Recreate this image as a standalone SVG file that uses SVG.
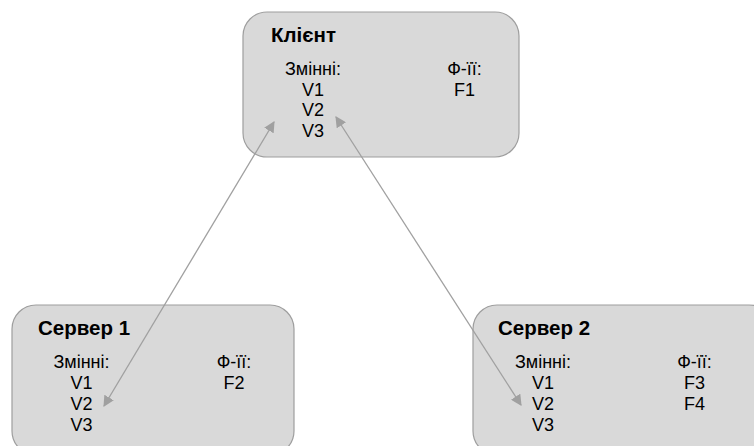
<svg xmlns="http://www.w3.org/2000/svg" width="754" height="446" viewBox="0 0 754 446">
<defs>
<style>
.box{fill:#d9d9d9;stroke:#9e9e9e;stroke-width:1.2}
.title{font-family:"Liberation Sans",Arial,sans-serif;font-weight:bold;font-size:20.5px;fill:#000}
.t{font-family:"Liberation Sans",Arial,sans-serif;font-size:18px;fill:#000;text-anchor:middle}
.conn{stroke:#a0a0a0;stroke-width:1.3;fill:none;marker-start:url(#ah);marker-end:url(#ah)}
</style>
<marker id="ah" viewBox="0 0 10 10" refX="9" refY="5" markerWidth="11" markerHeight="11" markerUnits="userSpaceOnUse" orient="auto-start-reverse">
<path d="M0,0 L10,5 L0,10 z" fill="#a0a0a0"/>
</marker>
</defs>
<rect width="754" height="446" fill="#ffffff"/>
<g id="client">
<rect class="box" x="243" y="12" width="276" height="145" rx="24"/>
<text class="title" x="271" y="42">Клієнт</text>
<text class="t" x="313" y="75">Змінні:</text>
<text class="t" x="313" y="95.5">V1</text>
<text class="t" x="313" y="116">V2</text>
<text class="t" x="313" y="137">V3</text>
<text class="t" x="464.5" y="75">Ф-її:</text>
<text class="t" x="464.5" y="95.5">F1</text>
</g>
<g id="server1">
<rect class="box" x="12" y="305" width="282" height="150" rx="24"/>
<text class="title" x="38" y="335">Сервер 1</text>
<text class="t" x="81.5" y="368">Змінні:</text>
<text class="t" x="81.5" y="389">V1</text>
<text class="t" x="81.5" y="410">V2</text>
<text class="t" x="81.5" y="431">V3</text>
<text class="t" x="234" y="368">Ф-її:</text>
<text class="t" x="234" y="389">F2</text>
</g>
<g id="server2">
<rect class="box" x="473" y="305" width="300" height="150" rx="24"/>
<text class="title" x="498" y="335">Сервер 2</text>
<text class="t" x="543" y="368">Змінні:</text>
<text class="t" x="543" y="389">V1</text>
<text class="t" x="543" y="410">V2</text>
<text class="t" x="543" y="431">V3</text>
<text class="t" x="694.5" y="368">Ф-її:</text>
<text class="t" x="694.5" y="389">F3</text>
<text class="t" x="694.5" y="410">F4</text>
</g>
<g id="connectors">
<line class="conn" x1="274" y1="122" x2="104" y2="406"/>
<line class="conn" x1="336" y1="117" x2="521" y2="405"/>
</g>
</svg>
